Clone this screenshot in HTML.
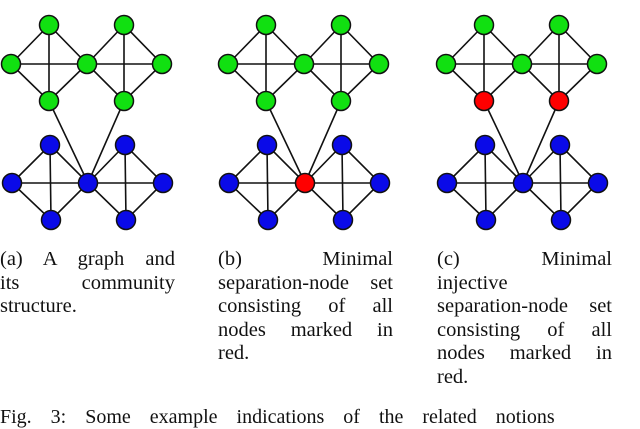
<!DOCTYPE html>
<html><head><meta charset="utf-8"><style>
body{margin:0;width:640px;height:414px;overflow:hidden;background:#fff;position:relative;font-family:"Liberation Serif",serif;}
svg{position:absolute;left:0;top:0}
.cap{position:absolute;width:175px;font-size:20.5px;line-height:23.6px;color:#111;}
.cap div{text-align:justify;text-align-last:justify;white-space:nowrap;}
.cap div.l{text-align:left;text-align-last:left;}
.fig{position:absolute;left:0;top:406px;font-size:20px;white-space:nowrap;color:#111;word-spacing:14px}
</style></head><body>
<svg width="640" height="240" viewBox="0 0 640 240">
<defs>
<g id="e" stroke="#111" stroke-width="1.6" fill="none">
<path d="M11 64L49 25L87 64L49 101ZM11 64H87M49 25V101M87 64L124 25L162 64L124 101ZM87 64H162M124 25V101"/>
<path d="M12 183L50 145L88 183L51 220ZM12 183H88M50 145L51 220M88 183L125 145L163 183L126 220ZM88 183H163M125 145L126 220"/>
<path d="M49 101L88 183M124 101L88 183"/>
</g>
</defs>
<g stroke="#111" stroke-width="1.5">
<g><use href="#e"/>
<g fill="#11e011"><circle cx="49" cy="25" r="9.5"/><circle cx="124" cy="25" r="9.5"/><circle cx="11" cy="64" r="9.5"/><circle cx="87" cy="64" r="9.5"/><circle cx="162" cy="64" r="9.5"/><circle cx="49" cy="101" r="9.5"/><circle cx="124" cy="101" r="9.5"/></g>
<g fill="#0a0ae8"><circle cx="50" cy="145" r="9.5"/><circle cx="125" cy="145" r="9.5"/><circle cx="12" cy="183" r="9.5"/><circle cx="88" cy="183" r="9.5"/><circle cx="163" cy="183" r="9.5"/><circle cx="51" cy="220" r="9.5"/><circle cx="126" cy="220" r="9.5"/></g></g>
<g transform="translate(217,0)"><use href="#e"/>
<g fill="#11e011"><circle cx="49" cy="25" r="9.5"/><circle cx="124" cy="25" r="9.5"/><circle cx="11" cy="64" r="9.5"/><circle cx="87" cy="64" r="9.5"/><circle cx="162" cy="64" r="9.5"/><circle cx="49" cy="101" r="9.5"/><circle cx="124" cy="101" r="9.5"/></g>
<g fill="#0a0ae8"><circle cx="50" cy="145" r="9.5"/><circle cx="125" cy="145" r="9.5"/><circle cx="12" cy="183" r="9.5"/><circle cx="88" cy="183" r="9.5" fill="#f00"/><circle cx="163" cy="183" r="9.5"/><circle cx="51" cy="220" r="9.5"/><circle cx="126" cy="220" r="9.5"/></g></g>
<g transform="translate(435,0)"><use href="#e"/>
<g fill="#11e011"><circle cx="49" cy="25" r="9.5"/><circle cx="124" cy="25" r="9.5"/><circle cx="11" cy="64" r="9.5"/><circle cx="87" cy="64" r="9.5"/><circle cx="162" cy="64" r="9.5"/><circle cx="49" cy="101" r="9.5" fill="#f00"/><circle cx="124" cy="101" r="9.5" fill="#f00"/></g>
<g fill="#0a0ae8"><circle cx="50" cy="145" r="9.5"/><circle cx="125" cy="145" r="9.5"/><circle cx="12" cy="183" r="9.5"/><circle cx="88" cy="183" r="9.5"/><circle cx="163" cy="183" r="9.5"/><circle cx="51" cy="220" r="9.5"/><circle cx="126" cy="220" r="9.5"/></g></g>
</g>
</svg>
<div class="cap" style="left:0;top:248px"><div>(a) A graph and</div><div>its community</div><div class="l">structure.</div></div>
<div class="cap" style="left:218px;top:248px"><div>(b) Minimal</div><div>separation-node set</div><div>consisting of all</div><div>nodes marked in</div><div class="l">red.</div></div>
<div class="cap" style="left:437px;top:248px"><div>(c) Minimal</div><div class="l">injective</div><div>separation-node set</div><div>consisting of all</div><div>nodes marked in</div><div class="l">red.</div></div>
<div class="fig">Fig. 3: Some example indications of the related notions</div>
</body></html>
